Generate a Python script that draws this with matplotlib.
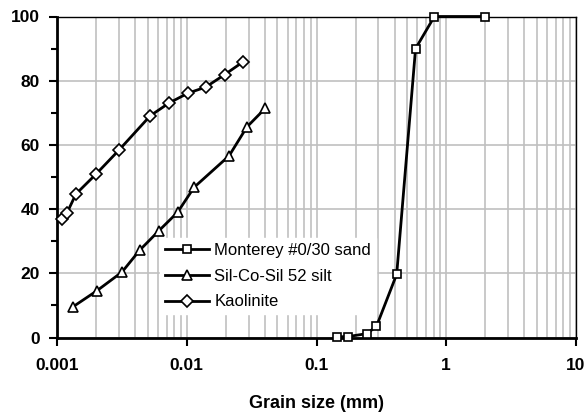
import numpy as np
import matplotlib
matplotlib.use("Agg")
import matplotlib.pyplot as plt
from matplotlib.ticker import LogLocator, NullFormatter, FixedLocator

plt.rcParams['font.family'] = ['Liberation Sans', 'DejaVu Sans']

# Monterey #0/30 sand
sand_d = [0.144, 0.175, 0.245, 0.29, 0.415, 0.58, 0.81, 2.0]
sand_p = [0.2, 0.3, 1.2, 3.5, 19.7, 90.0, 100.0, 100.0]

# Sil-Co-Sil 52 silt
silt_d = [0.00132, 0.00202, 0.00317, 0.00434, 0.00608, 0.0085, 0.0114, 0.0212, 0.0291, 0.0403]
silt_p = [9.5, 14.5, 20.4, 27.2, 33.2, 39.0, 46.8, 56.6, 65.6, 71.4]

# Kaolinite
kao_d = [0.00109, 0.00119, 0.0014, 0.00201, 0.00299, 0.00524, 0.00734, 0.0102, 0.014, 0.0196, 0.027]
kao_p = [36.8, 38.7, 44.7, 51.0, 58.3, 69.1, 73.1, 76.1, 78.0, 81.9, 85.8]

fig = plt.figure(figsize=(5.86, 4.12), dpi=100)
ax = fig.add_axes([57/586, 1-337.5/412, (576-57)/586, (337.5-16.5)/412])

kw = dict(color='black', lw=2, mfc='white', mec='black', mew=1.2, clip_on=False, zorder=5)
ax.plot(sand_d, sand_p, marker='s', ms=6, label='Monterey #0/30 sand', **kw)
ax.plot(silt_d, silt_p, marker='^', ms=7.5, label='Sil-Co-Sil 52 silt', **kw)
ax.plot(kao_d, kao_p, marker='D', ms=6, label='Kaolinite', **kw)

ax.set_xscale('log')
ax.set_xlim(0.001, 10)
ax.set_ylim(0, 100)
ax.set_xticks([0.001, 0.01, 0.1, 1, 10])
ax.set_xticklabels(['0.001', '0.01', '0.1', '1', '10'])
ax.xaxis.set_minor_locator(LogLocator(base=10, subs=np.arange(2, 10)))
ax.xaxis.set_minor_formatter(NullFormatter())
ax.set_yticks([0, 20, 40, 60, 80, 100])
ax.yaxis.set_minor_locator(FixedLocator([10, 30, 50, 70, 90]))

ax.grid(True, which='major', color='#c0c0c0', lw=1.2)
ax.grid(True, which='minor', axis='x', color='#c0c0c0', lw=1.2)
ax.set_axisbelow(True)

for s in ['left', 'bottom']:
    ax.spines[s].set_linewidth(2)
for s in ['top', 'right']:
    ax.spines[s].set_linewidth(1)
    ax.spines[s].set_zorder(1)

ax.tick_params(axis='both', which='major', direction='out', length=5.5, width=1.5,
               labelsize=12.5)
ax.tick_params(axis='x', which='major', pad=9)
ax.tick_params(axis='y', which='major', pad=7)
ax.tick_params(axis='x', which='minor', length=0)
ax.tick_params(axis='y', which='minor', direction='out', length=4, width=1.5)
for lab in ax.get_xticklabels() + ax.get_yticklabels():
    lab.set_fontweight('bold')

ax.set_xlabel('Grain size (mm)', fontsize=13, fontweight='bold', labelpad=16)

leg = ax.legend(loc='upper left', bbox_to_anchor=(160/586, 1-238/412),
                bbox_transform=fig.transFigure, frameon=True,
                fontsize=12, handlelength=2.65, borderpad=0.3, labelspacing=0.64,
                handletextpad=0.3, borderaxespad=0, fancybox=False, framealpha=1)
leg.get_frame().set_edgecolor('white')
leg.set_zorder(4)

fig.savefig('out.png', dpi=100)
